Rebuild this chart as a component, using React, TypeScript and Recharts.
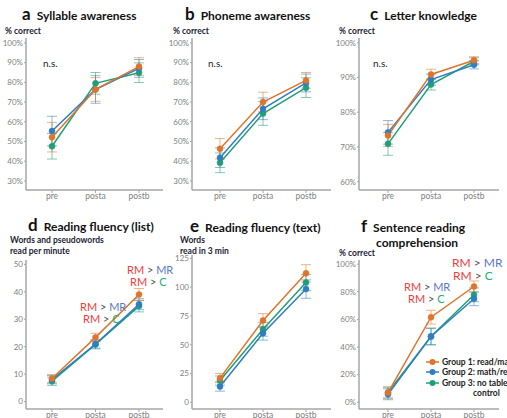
import { LineChart, Line, XAxis, YAxis, ErrorBar } from "recharts";

const PHASES = ["pre", "posta", "postb"];

const ORANGE = "#e0742a";
const BLUE = "#2f7dc2";
const GREEN = "#1f9f78";

// a  Syllable awareness (% correct)
const SYL_G1 = [52.2, 76.4, 88];
const SYL_G2 = [55.3, 76.4, 87.1];
const SYL_G3 = [47.6, 79.5, 84.9];
const SYL_E1 = [7.5, 6, 4.5];
const SYL_E2 = [7.5, 7, 4.5];
const SYL_E3 = [6.5, 5.5, 5];

// b  Phoneme awareness (% correct)
const PHO_G1 = [46.3, 70, 81];
const PHO_G2 = [41.8, 66.6, 79.7];
const PHO_G3 = [39.2, 64.2, 77.3];
const PHO_E1 = [5.2, 5, 4];
const PHO_E2 = [5, 5.5, 4.5];
const PHO_E3 = [5, 6, 5];

// c  Letter knowledge (% correct)
const LET_G1 = [73.3, 90.9, 95];
const LET_G2 = [74.2, 89.4, 93.7];
const LET_G3 = [70.9, 88, 94.7];
const LET_E1 = [3.2, 1.5, 1];
const LET_E2 = [3.4, 1.6, 1.2];
const LET_E3 = [3.3, 1.6, 1];

// d  Reading fluency (list), words per minute
const LIST_G1 = [8.4, 23.4, 39];
const LIST_G2 = [8, 21, 35.5];
const LIST_G3 = [7.4, 20.8, 34.8];
const LIST_E1 = [1.5, 1.5, 2.2];
const LIST_E2 = [1.5, 1.5, 2];
const LIST_E3 = [1.5, 1.6, 2.1];

// e  Reading fluency (text), words in 3 min
const TXT_G1 = [21, 71, 112];
const TXT_G2 = [13.7, 60, 98.3];
const TXT_G3 = [18.9, 63.4, 104];
const TXT_E1 = [4, 6, 7.5];
const TXT_E2 = [4, 6, 8];
const TXT_E3 = [4, 6, 7];

// f  Sentence reading comprehension (% correct)
const SEN_G1 = [7, 61.6, 83.8];
const SEN_G2 = [5.8, 47.6, 74.9];
const SEN_G3 = [7, 47.6, 77.8];
const SEN_E1 = [4, 5, 4];
const SEN_E2 = [4, 6, 5];
const SEN_E3 = [4, 6, 5];

const PCT_A = [30, 40, 50, 60, 70, 80, 90, 100];
const PCT_C = [60, 70, 80, 90, 100];
const PCT_F = [0, 20, 40, 60, 80, 100];
const LIST_TICKS = [0, 10, 20, 30, 40, 50];
const TXT_TICKS = [0, 25, 50, 75, 100, 125];

const LEGEND = ["Group 1: read/math", "Group 2: math/read", "Group 3: no tablet"];

function build(g1: number[], g2: number[], g3: number[], e1: number[], e2: number[], e3: number[]) {
  return PHASES.map((p, i) => ({ phase: p, g1: g1[i], g2: g2[i], g3: g3[i], e1: e1[i], e2: e2[i], e3: e3[i] }));
}

const axisColor = "#a6a6a6";

interface PanelProps {
  data: ReturnType<typeof build>;
  left: number;
  top: number;
  width: number;
  plotHeight: number;
  yWidth: number;
  rightMargin: number;
  domain: [number, number];
  ticks: number[];
  pct?: boolean;
  padL: number;
  padR: number;
}

function Panel(p: PanelProps) {
  const series = [
    { key: "g3", err: "e3", color: GREEN },
    { key: "g2", err: "e2", color: BLUE },
    { key: "g1", err: "e1", color: ORANGE },
  ];
  return (
    <div style={{ position: "absolute", left: p.left, top: p.top }}>
      <LineChart
        width={p.width}
        height={p.plotHeight + 22}
        data={p.data}
        margin={{ top: 0, right: p.rightMargin, bottom: 0, left: 0 }}
      >
        <XAxis
          dataKey="phase"
          height={22}
          padding={{ left: p.padL, right: p.padR }}
          axisLine={{ stroke: axisColor, strokeWidth: 1.5 }}
          tickLine={{ stroke: axisColor }}
          tickSize={3}
          tickMargin={0}
          tick={{ fontSize: 8.5, fill: "#808080" }}
        />
        <YAxis
          width={p.yWidth}
          type="number"
          domain={p.domain}
          ticks={p.ticks}
          allowDataOverflow
          interval={0}
          tickFormatter={(v) => (p.pct ? `${v}%` : `${v}`)}
          axisLine={{ stroke: axisColor, strokeWidth: 1.5 }}
          tickLine={{ stroke: axisColor }}
          tickSize={2}
          tickMargin={1}
          tick={{ fontSize: 8, fill: "#808080" }}
        />
        {series.map((s) => (
          <Line
            key={s.key}
            dataKey={s.key}
            stroke={s.color}
            strokeWidth={1.5}
            dot={{ r: 3, fill: s.color, stroke: s.color, strokeWidth: 0.5 }}
            isAnimationActive={false}
          >
            <ErrorBar dataKey={s.err} width={5} stroke={s.color} strokeOpacity={0.55} strokeWidth={1} direction="y" />
          </Line>
        ))}
      </LineChart>
    </div>
  );
}

const txt = (left: number, top: number, text: string, style: React.CSSProperties = {}) => (
  <div style={{ position: "absolute", left, top, whiteSpace: "nowrap", lineHeight: 1, ...style }}>{text}</div>
);

function Title({ left, top, letter, text }: { left: number; top: number; letter: string; text: string }) {
  return (
    <div style={{ position: "absolute", left, top, whiteSpace: "nowrap", fontWeight: 700, color: "#111", lineHeight: 1 }}>
      <span style={{ fontSize: 17, marginRight: 6 }}>{letter}</span>
      <span style={{ fontSize: 12 }}>{text}</span>
    </div>
  );
}

function Sig({ left, top, other, size = 11 }: { left: number; top: number; other: string; size?: number }) {
  return (
    <div style={{ position: "absolute", left, top, whiteSpace: "nowrap", fontSize: size, lineHeight: 1 }}>
      <span style={{ color: "#f03c3c" }}>RM</span>
      <span style={{ color: "#555" }}> &gt; </span>
      <span style={{ color: other === "C" ? "#25b072" : "#5a78c8" }}>{other}</span>
    </div>
  );
}

const axisLab: React.CSSProperties = { fontSize: 8.5, fontWeight: 700, color: "#1c1c33" };
const ns: React.CSSProperties = { fontSize: 10, color: "#222" };

export default function App() {
  return (
    <div
      style={{
        position: "absolute",
        left: 0,
        top: 0,
        width: 507,
        height: 418,
        overflow: "hidden",
        background: "#fff",
        fontFamily: "Lato, 'Open Sans', sans-serif",
      }}
    >
      <Title left={22} top={5} letter="a" text="Syllable awareness" />
      <Title left={185} top={5} letter="b" text="Phoneme awareness" />
      <Title left={370} top={5} letter="c" text="Letter knowledge" />
      <Title left={28} top={216} letter="d" text="Reading fluency (list)" />
      <Title left={190} top={217} letter="e" text="Reading fluency (text)" />
      <Title left={361} top={217} letter="f" text="Sentence reading" />
      {txt(376, 237, "comprehension", { fontSize: 12, fontWeight: 700, color: "#111" })}

      {txt(5, 27, "% correct", axisLab)}
      {txt(173, 27, "% correct", axisLab)}
      {txt(339, 27, "% correct", axisLab)}
      {txt(10, 236, "Words and pseudowords", axisLab)}
      {txt(10, 247, "read per minute", axisLab)}
      {txt(180, 236, "Words", axisLab)}
      {txt(180, 247, "read in 3 min", axisLab)}
      {txt(339, 249, "% correct", axisLab)}

      <Panel data={build(SYL_G1, SYL_G2, SYL_G3, SYL_E1, SYL_E2, SYL_E3)} left={0} top={38} width={168} plotHeight={152}
        yWidth={26} rightMargin={5} domain={[25.4, 102.5]} ticks={PCT_A} pct padL={26} padR={24} />
      <Panel data={build(PHO_G1, PHO_G2, PHO_G3, PHO_E1, PHO_E2, PHO_E3)} left={168} top={38} width={168} plotHeight={152}
        yWidth={24} rightMargin={5} domain={[25.4, 102.5]} ticks={PCT_A} pct padL={28} padR={25} />
      <Panel data={build(LET_G1, LET_G2, LET_G3, LET_E1, LET_E2, LET_E3)} left={336} top={38} width={171} plotHeight={152}
        yWidth={23} rightMargin={8} domain={[57.6, 101.4]} ticks={PCT_C} pct padL={29} padR={25} />
      <Panel data={build(LIST_G1, LIST_G2, LIST_G3, LIST_E1, LIST_E2, LIST_E3)} left={0} top={260} width={168} plotHeight={149}
        yWidth={26} rightMargin={5} domain={[-2.7, 51.6]} ticks={LIST_TICKS} padL={26} padR={24} />
      <Panel data={build(TXT_G1, TXT_G2, TXT_G3, TXT_E1, TXT_E2, TXT_E3)} left={168} top={255} width={168} plotHeight={154}
        yWidth={24} rightMargin={5} domain={[-5.8, 127.9]} ticks={TXT_TICKS} padL={28} padR={25} />
      <Panel data={build(SEN_G1, SEN_G2, SEN_G3, SEN_E1, SEN_E2, SEN_E3)} left={336} top={260} width={171} plotHeight={149}
        yWidth={23} rightMargin={8} domain={[-4.9, 103]} ticks={PCT_F} pct padL={29} padR={25} />

      {txt(43, 58, "n.s.", ns)}
      {txt(208, 58, "n.s.", ns)}
      {txt(373, 58, "n.s.", ns)}

      <Sig left={127} top={264} other="MR" />
      <Sig left={130} top={276} other="C" />
      <Sig left={80} top={301} other="MR" />
      <Sig left={83} top={313} other="C" />

      <Sig left={404} top={281} other="MR" />
      <Sig left={408} top={293} other="C" />
      <Sig left={452} top={257} other="MR" size={12} />
      <Sig left={453} top={270} other="C" size={12} />

      {LEGEND.map((label, i) => {
        const color = [ORANGE, BLUE, GREEN][i];
        return (
          <div key={label} style={{ position: "absolute", left: 426, top: 357 + i * 10.3, height: 10, whiteSpace: "nowrap" }}>
            <svg width={13} height={10} style={{ position: "absolute", left: 0, top: 0 }}>
              <line x1={0} y1={5} x2={13} y2={5} stroke={color} strokeWidth={1.5} />
              <circle cx={6.5} cy={5} r={3} fill={color} />
            </svg>
            <span style={{ position: "absolute", left: 16, top: 0, fontSize: 8.5, fontWeight: 700, color: "#222", lineHeight: "10px" }}>
              {label}
            </span>
          </div>
        );
      })}
      {txt(473, 389, "control", { fontSize: 8.5, fontWeight: 700, color: "#222" })}
    </div>
  );
}
